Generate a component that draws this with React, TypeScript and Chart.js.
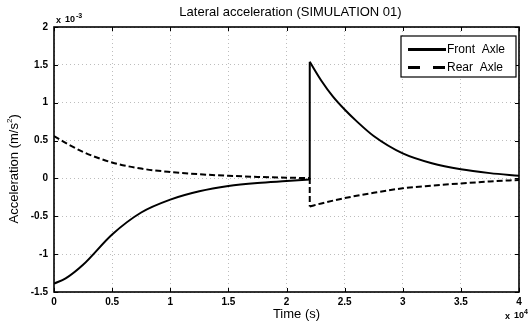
import React, { useEffect, useRef } from "react";
import { Chart, registerables } from "chart.js";

Chart.register(...registerables);

const frontT = [0, 0.1, 0.25, 0.5, 0.75, 1, 1.25, 1.5, 1.75, 2, 2.2, 2.2, 2.3, 2.4, 2.5, 2.6, 2.75, 3, 3.25, 3.5, 3.75, 4];
const frontV = [-1.39, -1.32, -1.14, -0.74, -0.45, -0.28, -0.17, -0.1, -0.06, -0.035, -0.015, 1.54, 1.29, 1.08, 0.91, 0.76, 0.56, 0.33, 0.2, 0.12, 0.07, 0.035];
const rearT = [0, 0.1, 0.25, 0.5, 0.75, 1, 1.25, 1.5, 1.75, 2, 2.2, 2.2, 2.3, 2.5, 2.75, 3, 3.25, 3.5, 3.75, 4];
const rearV = [0.56, 0.47, 0.35, 0.21, 0.13, 0.085, 0.055, 0.035, 0.02, 0.01, 0.005, -0.37, -0.33, -0.26, -0.19, -0.13, -0.095, -0.066, -0.04, -0.02];
const seriesNames = ["Front  Axle", "Rear  Axle"];
const xTicks = [0, 0.5, 1, 1.5, 2, 2.5, 3, 3.5, 4];
const yTicks = [-1.5, -1, -0.5, 0, 0.5, 1, 1.5, 2];
const titleText = "Lateral acceleration (SIMULATION 01)";
const xLabel = "Time (s)";
const yLabel = "Acceleration (m/s";

const SANS = '"Liberation Sans", Arial, sans-serif';
const NARROW = '"Liberation Sans Narrow", "Liberation Sans", Arial, sans-serif';

// split a series at its step (two equal consecutive times) into three pieces
function splitSeries(ts: number[], vs: number[], label: string, dash: number[]) {
  const pts = ts.map((t, i) => ({ x: t, y: vs[i] }));
  let k = -1;
  for (let i = 0; i < ts.length - 1; i++) if (ts[i] === ts[i + 1]) { k = i; break; }
  const base = { borderColor: "#000", borderWidth: 2, borderDash: dash, pointRadius: 0, fill: false, label };
  if (k < 0) return [{ ...base, data: pts, cubicInterpolationMode: "monotone" }];
  return [
    { ...base, data: pts.slice(0, k + 1), cubicInterpolationMode: "monotone" },
    { ...base, data: pts.slice(k, k + 2), tension: 0 },
    { ...base, data: pts.slice(k + 1), cubicInterpolationMode: "monotone" },
  ];
}

const decorPlugin = {
  id: "decor",
  afterDraw(chart: any) {
    const ctx = chart.ctx;
    const a = chart.chartArea;
    const xs = chart.scales.x;
    const ys = chart.scales.y;
    ctx.save();
    ctx.strokeStyle = "#000";
    ctx.lineWidth = 1;
    ctx.beginPath();
    for (const t of xTicks) {
      const px = Math.round(xs.getPixelForValue(t)) + 0.5;
      ctx.moveTo(px, a.bottom);
      ctx.lineTo(px, a.bottom - 4);
      ctx.moveTo(px, a.top);
      ctx.lineTo(px, a.top + 4);
    }
    for (const t of yTicks) {
      const py = Math.round(ys.getPixelForValue(t)) + 0.5;
      ctx.moveTo(a.left, py);
      ctx.lineTo(a.left + 4, py);
      ctx.moveTo(a.right, py);
      ctx.lineTo(a.right - 4, py);
    }
    ctx.stroke();
    ctx.lineWidth = 1.6;
    ctx.strokeRect(a.left, a.top, a.right - a.left, a.bottom - a.top);

    ctx.fillStyle = "#000";
    ctx.font = "13px " + SANS;
    ctx.textAlign = "center";
    ctx.textBaseline = "middle";
    ctx.fillText(titleText, (a.left + a.right) / 2 + 4, 12);
    ctx.fillText(xLabel, (a.left + a.right) / 2 + 10, 314);
    ctx.save();
    ctx.translate(14, (a.top + a.bottom) / 2 + 8);
    ctx.rotate(-Math.PI / 2);
    ctx.textAlign = "left";
    const yw = ctx.measureText(yLabel + "2)").width;
    let x0 = -yw / 2;
    ctx.fillText(yLabel, x0, 0);
    x0 += ctx.measureText(yLabel).width;
    ctx.font = "8px " + SANS;
    ctx.fillText("2", x0, -4);
    x0 += ctx.measureText("2").width;
    ctx.font = "13px " + SANS;
    ctx.fillText(")", x0, 0);
    ctx.restore();

    ctx.textAlign = "left";
    ctx.font = "bold 9px " + NARROW;
    ctx.fillText("x", a.left + 2, 21);
    ctx.fillText("10", a.left + 11, 20);
    ctx.font = "bold 7px " + NARROW;
    ctx.fillText("-3", a.left + 22, 16);
    ctx.font = "bold 9px " + NARROW;
    ctx.fillText("x", 505, 317);
    ctx.fillText("10", 514, 316);
    ctx.font = "bold 7px " + NARROW;
    ctx.fillText("4", 524, 312);

    const lx = 401, ly = 36, lw = 115, lh = 41;
    ctx.fillStyle = "#fff";
    ctx.fillRect(lx, ly, lw, lh);
    ctx.lineWidth = 1.2;
    ctx.strokeStyle = "#000";
    ctx.strokeRect(lx, ly, lw, lh);
    ctx.lineWidth = 3;
    ctx.beginPath();
    ctx.moveTo(408, 49.5);
    ctx.lineTo(446, 49.5);
    ctx.stroke();
    ctx.setLineDash([12, 13]);
    ctx.beginPath();
    ctx.moveTo(408, 67.5);
    ctx.lineTo(446, 67.5);
    ctx.stroke();
    ctx.setLineDash([]);
    ctx.fillStyle = "#000";
    ctx.font = "12px " + NARROW;
    ctx.textBaseline = "middle";
    ctx.fillText(seriesNames[0], 447, 50);
    ctx.fillText(seriesNames[1], 447, 68);
    ctx.restore();
  },
};

export default function App() {
  const ref = useRef<HTMLCanvasElement | null>(null);
  useEffect(() => {
    document.body.style.margin = "0";
    const canvas = ref.current;
    if (!canvas) return;
    const chart = new Chart(canvas, {
      type: "line",
      data: {
        datasets: [
          ...splitSeries(frontT, frontV, seriesNames[0], []),
          ...splitSeries(rearT, rearV, seriesNames[1], [6, 3]),
        ],
      },
      options: {
        responsive: false,
        animation: false,
        devicePixelRatio: 1,
        layout: { padding: { top: 27, right: 9, left: 0, bottom: 0 } },
        plugins: { legend: { display: false }, title: { display: false }, tooltip: { enabled: false } },
        scales: {
          x: {
            type: "linear",
            min: 0,
            max: 4,
            afterFit: (s: any) => { s.height = 31; },
            afterBuildTicks: (s: any) => { s.ticks = xTicks.map((v) => ({ value: v })); },
            ticks: {
              padding: 4,
              color: "#000",
              maxRotation: 0,
              font: { family: NARROW, size: 10, weight: "bold" },
              callback: (v: any) => String(v),
            },
            grid: { color: "#bdbdbd", drawTicks: false, lineWidth: 1 },
            border: { display: false, dash: [1, 3] },
          },
          y: {
            type: "linear",
            min: -1.5,
            max: 2,
            afterFit: (s: any) => { s.width = 54; },
            afterBuildTicks: (s: any) => { s.ticks = yTicks.map((v) => ({ value: v })); },
            ticks: {
              padding: 6,
              color: "#000",
              font: { family: NARROW, size: 10, weight: "bold" },
              callback: (v: any) => String(v),
            },
            grid: { color: "#bdbdbd", drawTicks: false, lineWidth: 1 },
            border: { display: false, dash: [1, 3] },
          },
        },
      },
      plugins: [decorPlugin],
    } as any);
    return () => chart.destroy();
  }, []);
  return (
    <div style={{ width: 528, height: 323, background: "#fff" }}>
      <canvas ref={ref} width={528} height={323} />
    </div>
  );
}
